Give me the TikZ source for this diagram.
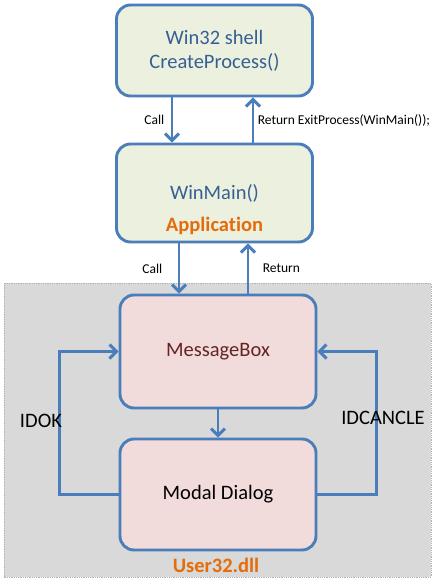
\documentclass[tikz,border=0pt]{standalone}
\usepackage{fontspec}
\setmainfont{Carlito}[Ligatures={NoCommon}]
\usetikzlibrary{arrows.meta}

\definecolor{boxline}{HTML}{4A7EBB}
\definecolor{greenfill}{HTML}{EBF1DE}
\definecolor{redfill}{HTML}{F2DCDB}
\definecolor{bluetext}{HTML}{376092}
\definecolor{redtext}{HTML}{632423}
\definecolor{orangetext}{HTML}{E46C0A}
\definecolor{dllgray}{HTML}{D9D9D9}

\tikzset{
  block/.style={shape=rectangle, draw=boxline, line width=2.9pt, rounded corners=14pt,
    minimum width=196pt, align=center, font=\fontsize{20.5}{24}\selectfont},
  flow/.style={draw=boxline, line width=2.9pt, -{Straight Barb[length=7pt,width=14pt]}},
  small/.style={font=\fontsize{13.5}{15}\selectfont},
  big/.style={font=\fontsize{20.5}{24}\selectfont},
  tag/.style={font=\fontsize{20.5}{24}\selectfont\bfseries, text=orangetext}
}

\begin{document}
\begin{tikzpicture}[x=1pt, y=-1pt]
\useasboundingbox (0,0) rectangle (434,582);

% user32.dll area
\draw [fill=dllgray, draw=gray!60, densely dotted, line width=0.8pt] (4,283) rectangle (431,577);
\node [tag] (dll) at (216,565) {User32.dll};

\node [block, fill=greenfill, text=bluetext, minimum height=91pt] (shell) at (214.5,50.5) {Win32 shell\\CreateProcess()};
\node [block, fill=greenfill, text=bluetext, minimum height=98pt] (winmain) at (214.5,193) {WinMain()};
\node [tag] (app) at (214.5,226) {Application};
\node [block, fill=redfill, text=redtext, minimum height=113pt] (msgbox) at (218,351.5) {MessageBox};
\node [block, fill=redfill, minimum height=111pt] (dialog) at (218,494.5) {Modal Dialog};

\draw [flow] ([xshift=-42.5pt]shell.south) -- ([xshift=-42.5pt]winmain.north) node [midway, left=3pt, small] {Call};
\draw [flow] ([xshift=38.5pt]winmain.north) -- ([xshift=38.5pt]shell.south) node [midway, right, small] {Return ExitProcess(WinMain());};
\draw [flow] ([xshift=-35.5pt]winmain.south) -- ([xshift=-39pt]msgbox.north) node [midway, left=12pt, small] {Call};
\draw [flow] ([xshift=30pt]msgbox.north) -- ([xshift=33.5pt]winmain.south) node [midway, right=10pt, small] {Return};
\draw [flow] (msgbox.south) -- (dialog.north);

\draw [flow] (dialog.west) -- ++(-59,0) |- (msgbox.west);
\draw [flow] (dialog.east) -- ++(59,0) |- (msgbox.east);
\node [big] (idok) at (41,421) {IDOK};
\node [big] (idcancle) at (383,418) {IDCANCLE};
\end{tikzpicture}
\end{document}
